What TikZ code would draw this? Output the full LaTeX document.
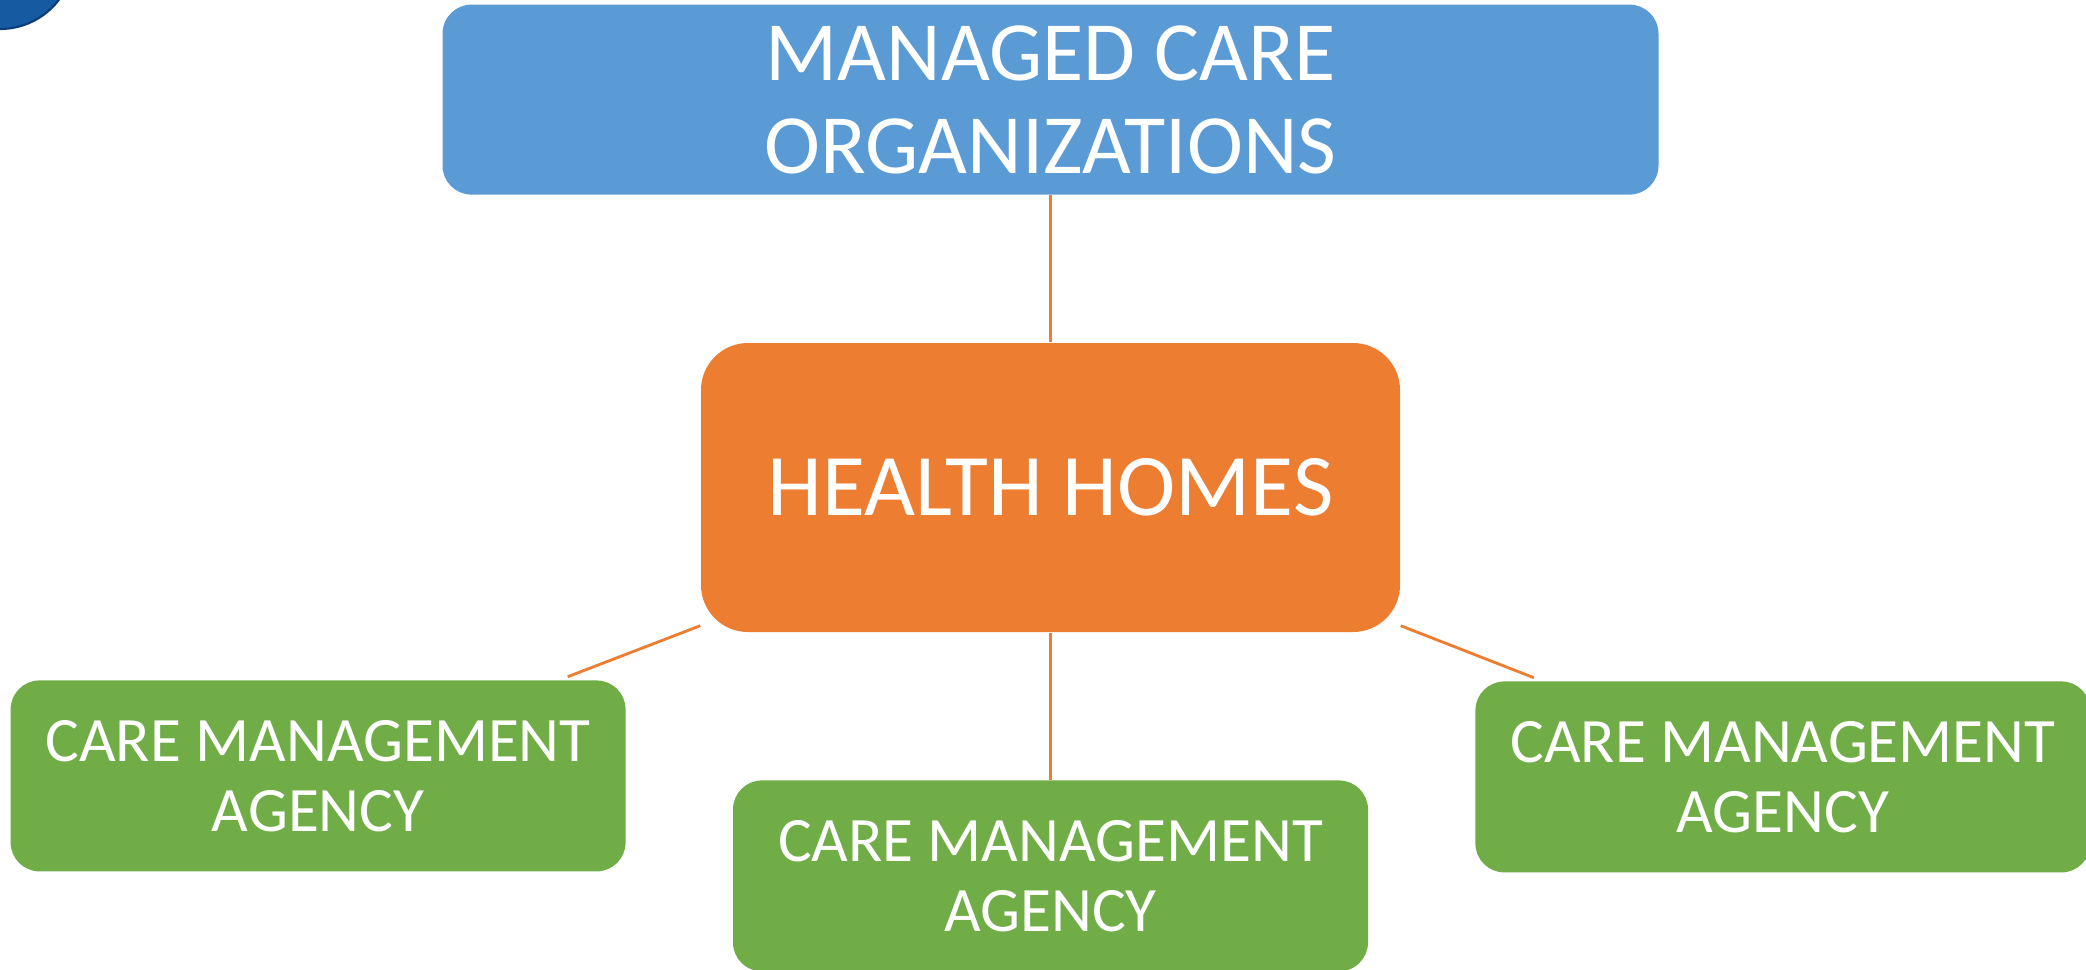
\documentclass[tikz,border=0pt]{standalone}
\usepackage{fontspec}
\setmainfont{Carlito}
\usetikzlibrary{positioning,calc}

\definecolor{mcoblue}{RGB}{91,155,213}
\definecolor{hhorange}{RGB}{237,125,49}
\definecolor{cmagreen}{RGB}{112,173,71}
\definecolor{logoblue}{RGB}{22,90,162}

\tikzset{
    mcobox/.style={rectangle, fill=mcoblue, rounded corners=0.29cm, minimum width=12.16cm, minimum height=1.90cm, inner sep=0pt, align=center, text=white, font=\fontsize{24}{26.5}\selectfont},
    hhbox/.style={rectangle, fill=hhorange, rounded corners=0.47cm, minimum width=6.99cm, minimum height=2.89cm, inner sep=0pt, align=center, text=white, font=\fontsize{25}{27.5}\selectfont},
    cmabox/.style={rectangle, fill=cmagreen, rounded corners=0.29cm, minimum width=6.15cm, minimum height=1.91cm, inner sep=0pt, align=center, text=white, font=\fontsize{18}{19.8}\selectfont},
    link/.style={draw=hhorange, line width=0.8pt}
}

\begin{document}
\begin{tikzpicture}[node distance=1.47cm]
    \useasboundingbox (0,0) rectangle (20.86,-9.69);
    % corner of the logo
    \fill[logoblue, draw={rgb,255:red,12;green,60;blue,120}, line width=0.6pt] (0,0.45) circle (0.74);

    \node (hh) [hhbox] at (10.505,-4.875) {HEALTH HOMES};
    \node (mco) [mcobox, above=of hh] {MANAGED CARE\\ORGANIZATIONS};
    \node (cmaM) [cmabox, below=of hh, minimum width=6.35cm] {CARE MANAGEMENT\\AGENCY};
    \node (cmaL) [cmabox, below left=0.47cm and 0.74cm of hh] {CARE MANAGEMENT\\AGENCY};
    \node (cmaR) [cmabox, below right=0.48cm and 0.74cm of hh] {CARE MANAGEMENT\\AGENCY};

    \draw[link] (mco) -- (hh);
    \draw[link] (hh) -- (cmaM);
    \draw[link] ($(hh.south west)+(0,0.07)$) -- ($(cmaL.north west)!0.905!(cmaL.north east)+(0,0.03)$);
    \draw[link] ($(hh.south east)+(0,0.07)$) -- ($(cmaR.north west)!0.096!(cmaR.north east)+(0,0.03)$);
\end{tikzpicture}
\end{document}
